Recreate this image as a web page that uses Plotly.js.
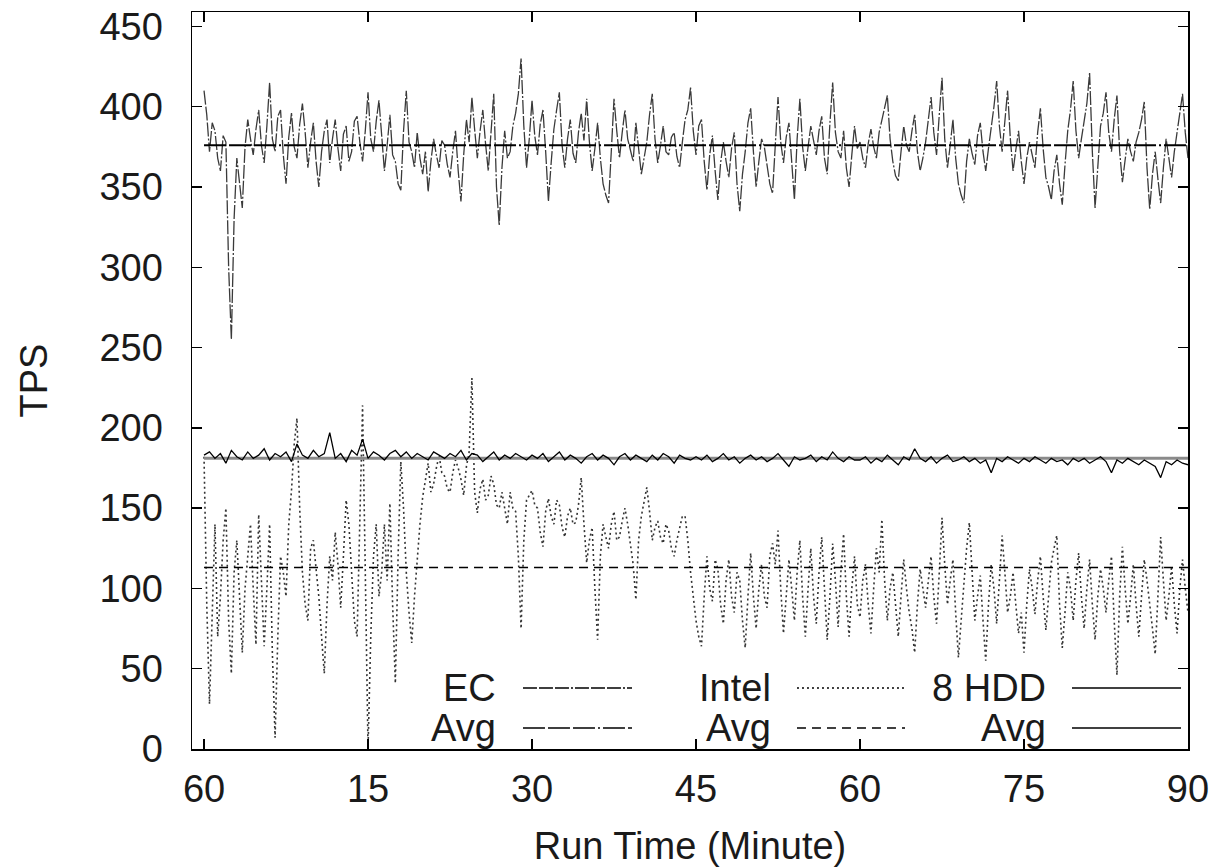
<!DOCTYPE html>
<html>
<head>
<meta charset="utf-8">
<script src="https://cdn.plot.ly/plotly-3.0.1.min.js"></script>
<style>
  html, body { margin: 0; padding: 0; background: #fff; }
  #chart { width: 1229px; height: 867px; }
</style>
</head>
<body>
<div id="chart"></div>
<script>
// Sample intervals of the recorded TPS values (minutes)
const fineStepMin = 0.25;   // EC and Intel
const hddStepMin = 0.5;     // 8 HDD

// EC TPS, one value per quarter minute, 0 .. 90 min
const ecTps = [
  410,395,372,390,385,368,360,382,378,300,255,330,368,352,337,375,392,380,370,386,
  398,376,365,388,415,380,372,394,398,370,352,381,396,375,368,389,402,384,362,378,
  390,366,350,372,385,392,365,380,392,374,360,383,388,366,372,391,394,378,366,385,
  409,380,372,391,404,382,360,376,395,370,366,352,348,385,410,378,372,362,384,368,
  358,372,347,366,380,370,362,379,376,364,356,372,385,360,341,370,392,378,406,386,
  368,385,398,377,360,384,408,350,326,362,385,368,372,388,396,408,430,388,362,380,
  404,382,370,389,398,372,341,365,386,398,409,376,362,380,392,371,365,384,396,379,
  405,378,360,374,390,368,352,345,340,372,405,385,368,384,398,380,372,366,390,375,
  358,368,378,395,408,380,365,376,388,372,370,381,384,369,362,378,392,398,412,385,
  370,388,392,366,348,370,382,360,342,365,378,366,356,374,384,352,335,358,372,390,
  399,372,350,366,380,375,362,352,346,380,406,378,365,381,390,366,342,380,405,375,
  360,375,388,379,370,385,394,368,358,390,415,384,372,368,385,362,350,370,388,374,
  378,368,362,377,386,375,368,384,392,399,407,380,366,357,354,372,388,376,372,385,
  395,372,360,368,378,392,406,384,370,395,418,380,362,376,392,368,352,345,340,366,
  380,371,364,382,390,372,360,374,386,400,416,388,372,394,410,380,360,373,385,366,
  352,368,378,370,362,384,399,374,356,350,342,360,370,352,339,364,385,398,416,385,
  368,380,392,402,421,372,337,362,388,396,409,384,372,392,407,372,353,367,380,372,
  366,378,384,392,403,362,336,358,372,355,340,362,380,368,356,372,385,396,408,384,
  368
];

// Intel SSD TPS, one value per quarter minute
const intelTps = [
  182,90,28,85,140,70,95,130,150,80,47,110,130,95,60,100,120,140,100,65,
  146,110,64,100,140,60,7,70,120,110,95,140,161,190,206,150,110,90,80,125,
  130,112,95,70,47,90,120,105,135,115,88,120,155,140,110,80,70,150,214,110,
  0,70,120,140,95,110,140,105,153,90,41,120,179,150,110,85,66,95,120,140,
  157,168,178,160,165,175,183,172,170,162,160,172,180,175,168,158,176,185,231,160,
  147,162,168,155,158,170,165,152,150,160,151,140,160,150,148,120,75,130,155,158,
  161,152,150,135,126,148,156,145,140,155,152,138,132,145,150,140,141,152,169,140,
  116,130,138,100,68,120,140,132,125,140,148,130,132,142,150,140,128,115,93,130,
  145,155,163,148,130,138,142,132,128,140,136,125,120,130,138,145,145,130,110,95,
  80,70,64,95,120,100,92,118,112,90,78,105,118,95,85,110,105,80,63,95,
  122,95,75,100,115,95,88,120,128,115,136,100,72,95,118,100,80,110,130,95,
  70,100,125,95,78,110,132,100,68,95,128,105,76,110,134,95,70,100,120,90,
  82,105,115,90,72,100,125,110,143,105,80,100,110,90,70,95,118,100,85,75,
  60,90,112,100,88,105,120,95,78,110,144,115,90,105,118,85,57,80,105,125,
  141,110,80,95,108,80,55,90,115,100,78,105,133,110,85,95,110,90,72,85,
  60,90,112,100,84,105,120,95,74,95,116,125,133,90,63,85,110,100,80,105,
  122,95,75,100,118,90,68,95,112,100,85,105,120,80,46,95,126,100,78,95,
  115,90,70,95,118,105,88,75,59,100,132,105,80,95,114,90,72,100,118,100,
  85
];

// 8 HDD TPS, one value per half minute
const hddTps = [
  183,185,181,184,178,186,182,180,185,181,
  183,187,180,184,182,185,179,190,183,181,
  186,182,184,197,181,184,179,186,183,193,
  181,185,183,180,184,186,182,185,181,184,
  182,180,185,183,181,184,182,186,180,184,
  183,179,182,185,180,183,181,184,182,180,
  183,181,184,179,182,185,180,183,181,178,
  182,184,180,183,181,177,182,184,180,183,
  181,179,183,180,184,182,178,183,181,180,
  182,180,183,179,181,184,180,182,178,181,
  183,180,182,179,181,184,180,176,182,180,
  181,183,179,182,180,185,181,179,182,180,
  180,182,178,181,179,183,180,177,182,180,
  187,181,179,182,178,181,183,179,180,182,
  179,181,178,180,172,181,179,182,180,178,
  181,179,182,180,178,181,179,180,177,181,
  179,181,178,180,182,179,172,180,178,181,
  179,177,180,178,176,169,179,177,180,178,
  177
];

// Averages
const ecAvg = 376;
const intelAvg = 113;
const hddAvg = 181;

// Axis ticks
const xTickVals = [0, 15, 30, 45, 60, 75, 90];
const xTickText = ["60", "15", "30", "45", "60", "75", "90"];
const yTickVals = [0, 50, 100, 150, 200, 250, 300, 350, 400, 450];

// Legend labels
const legendRow1 = ["EC", "Intel", "8 HDD"];
const legendRow2 = ["Avg", "Avg", "Avg"];

const minutesFine = ecTps.map((_, i) => i * fineStepMin);
const minutesHdd = hddTps.map((_, i) => i * hddStepMin);
const avgX = [minutesFine[0], minutesFine[minutesFine.length - 1]];

const FONT = "Liberation Sans, Arial, Helvetica, sans-serif";
const TXT = "#1a1a1a";

const ecDash = "14px,2px,14px,2px,14px,2px,2px,2px";
const ecAvgDash = "22px,3px,22px,3px,22px,3px,2px,3px";
const intelDash = "2px,3px";
const intelAvgDash = "9px,6px";

const traces = [
  { x: minutesFine, y: ecTps, type: "scatter", mode: "lines",
    line: { color: "#3a3a3a", width: 1.3, dash: ecDash }, showlegend: false, hoverinfo: "skip" },
  { x: avgX, y: [ecAvg, ecAvg], type: "scatter", mode: "lines",
    line: { color: "#000", width: 2, dash: ecAvgDash }, showlegend: false, hoverinfo: "skip" },
  { x: minutesFine, y: intelTps, type: "scatter", mode: "lines",
    line: { color: "#333", width: 1.6, dash: intelDash }, showlegend: false, hoverinfo: "skip" },
  { x: avgX, y: [intelAvg, intelAvg], type: "scatter", mode: "lines",
    line: { color: "#000", width: 1.6, dash: intelAvgDash }, showlegend: false, hoverinfo: "skip" },
  { x: avgX, y: [hddAvg, hddAvg], type: "scatter", mode: "lines",
    line: { color: "#8a8a8a", width: 3 }, showlegend: false, hoverinfo: "skip" },
  { x: minutesHdd, y: hddTps, type: "scatter", mode: "lines",
    line: { color: "#000", width: 1.3 }, showlegend: false, hoverinfo: "skip" }
];

// gnuplot-style legend: text right-aligned, line sample to its right
const colTextRight = [0.3072, 0.5833, 0.8594];
const colSampleStart = [0.3323, 0.6074, 0.8835];
const colSampleEnd = [0.4418, 0.7159, 0.9930];
const rowY = [0.0828, 0.0285];
const rowDash = [[ecDash, intelDash, "solid"], [ecAvgDash, intelAvgDash, "solid"]];
const rowWidth = [[1.5, 1.6, 1.5], [1.5, 1.6, 1.5]];

const annotations = [];
const shapes = [];
[legendRow1, legendRow2].forEach((row, r) => {
  row.forEach((label, c) => {
    annotations.push({
      xref: "paper", yref: "paper", x: colTextRight[c], y: rowY[r],
      xanchor: "right", yanchor: "middle", showarrow: false,
      text: label, font: { family: FONT, size: 38, color: TXT }
    });
    shapes.push({
      type: "line", xref: "paper", yref: "paper",
      x0: colSampleStart[c], x1: colSampleEnd[c], y0: rowY[r], y1: rowY[r],
      line: { color: "#000", width: rowWidth[r][c], dash: rowDash[r][c] }
    });
  });
});

const layout = {
  width: 1229, height: 867,
  margin: { l: 192, r: 41, t: 12, b: 118 },
  paper_bgcolor: "#fff", plot_bgcolor: "#fff",
  font: { family: FONT, size: 38, color: TXT },
  xaxis: {
    range: [-1.1, 90], tickvals: xTickVals, ticktext: xTickText,
    ticks: "inside", ticklen: 10, tickwidth: 1.5, tickcolor: "#000",
    showline: true, linecolor: "#000", linewidth: 1.5, mirror: "ticks",
    showgrid: false, zeroline: false, ticklabelstandoff: 6,
    tickfont: { family: FONT, size: 38, color: TXT },
    title: { text: "Run Time (Minute)", font: { family: FONT, size: 38, color: TXT }, standoff: 35 }
  },
  yaxis: {
    range: [0, 459], tickvals: yTickVals,
    ticks: "inside", ticklen: 10, tickwidth: 1.5, tickcolor: "#000",
    showline: true, linecolor: "#000", linewidth: 1.5, mirror: "ticks",
    showgrid: false, zeroline: false, ticklabelstandoff: 20,
    tickfont: { family: FONT, size: 38, color: TXT },
    title: { text: "TPS", font: { family: FONT, size: 38, color: TXT }, standoff: 40 }
  },
  annotations: annotations,
  shapes: shapes
};

Plotly.newPlot("chart", traces, layout, { displayModeBar: false, staticPlot: true });
</script>
</body>
</html>
